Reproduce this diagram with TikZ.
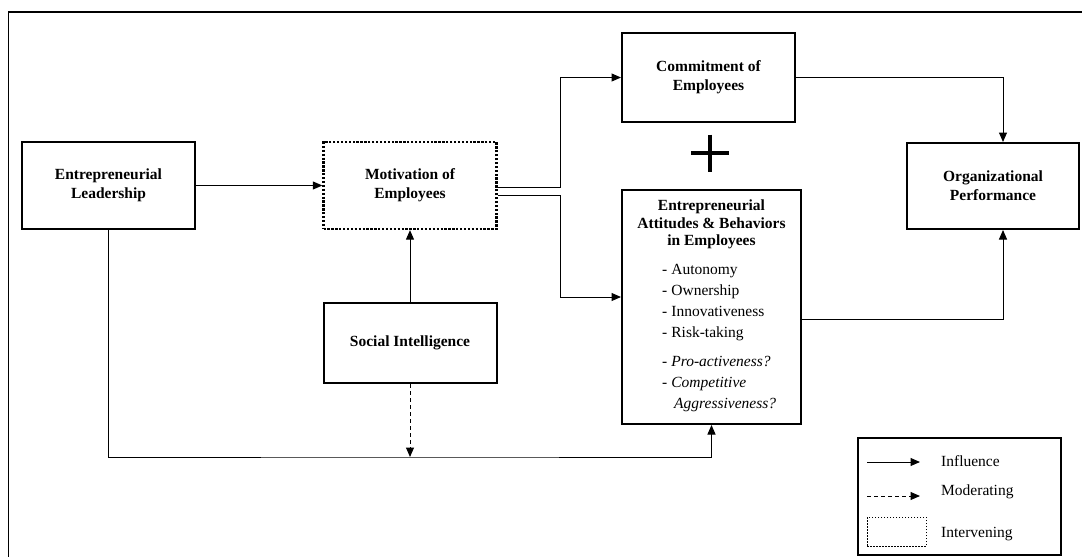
\documentclass[tikz,border=0pt]{standalone}
\usepackage{fontspec}
\setmainfont{Liberation Serif}
\usetikzlibrary{arrows.meta}
\begin{document}
\begin{tikzpicture}[x=1pt,y=-1pt,
  box/.style={draw, line width=2pt, inner sep=0pt, align=center,
    font=\fontsize{15.5}{19}\selectfont\bfseries},
  dotbox/.style={box, line width=2.3pt, dash pattern=on 2.3pt off 1.6pt},
  conn/.style={line width=1pt},
  arr/.style={conn, -{Triangle[length=9.5pt,width=8pt]}},
  darr/.style={arr, dash pattern=on 4pt off 3pt},
  item/.style={anchor=base west, inner sep=0pt, font=\fontsize{15.5}{18}\selectfont},
  legtext/.style={anchor=base west, inner sep=0pt, font=\fontsize{15.5}{18}\selectfont}
]
\useasboundingbox (0,0) rectangle (1082,557);
% outer frame
\draw[line width=1.5pt] (8.5,557) -- (8.5,12) -- (1085,12);

% boxes
\node[box, minimum width=173pt, minimum height=87pt] (el) at (108.5,185.5) {Entrepreneurial\\Leadership};
\node[dotbox, minimum width=173pt, minimum height=87pt] (mot) at (410,185.5) {Motivation of\\Employees};
\node[box, minimum width=173pt, minimum height=80pt] (si) at (410,343) {Social Intelligence};
\node[box, minimum width=173pt, minimum height=89pt] (comm) at (708.5,77.5) {Commitment of\\Employees};
\node[box, minimum width=179pt, minimum height=234pt] (eab) at (711.5,307) {};
\node[box, minimum width=172pt, minimum height=86pt] (org) at (993,186) {Organizational\\Performance};

% EAB contents
\node[inner sep=0pt, align=center, font=\fontsize{15.5}{17.5}\selectfont\bfseries] (eabt) at (711.5,224.5)
  {Entrepreneurial\\Attitudes \& Behaviors\\in Employees};
\node[item] (i1) at (662,274) {-\hspace{4pt}Autonomy};
\node[item] (i2) at (662,295) {-\hspace{4pt}Ownership};
\node[item] (i3) at (662,316) {-\hspace{4pt}Innovativeness};
\node[item] (i4) at (662,337) {-\hspace{4pt}Risk-taking};
\node[item] (i5) at (662,366) {-\hspace{4pt}\textit{Pro-activeness?}};
\node[item] (i6) at (662,387) {-\hspace{4pt}\textit{Competitive}};
\node[item] (i7) at (674,408) {\textit{Aggressiveness?}};

% plus sign
\draw[line width=4pt] (691,153) -- (729,153);
\draw[line width=4pt] (710,134.5) -- (710,171.5);

% junction coordinates
\coordinate (ju) at (560,187);
\coordinate (jl) at (560,195);
\coordinate (jo) at (1003,0);
\coordinate (m) at (410,457);

% connectors
\draw[arr] (el.east) -- (mot.west);
\draw[arr] (mot.east |- ju) -- (ju) |- (comm.west);
\draw[arr] (mot.east |- jl) -- (jl) |- (eab.west |- 0,297);
\draw[arr] (comm.east) -| (org.north -| jo);
\draw[arr] (eab.east |- 0,319) -| (org.south -| jo);
\draw[arr] (si.north) -- (mot.south);
\draw[darr] (si.south) -- (m);
\draw[arr] (el.south) |- (m) -| (eab.south);

% legend
\node[draw, line width=1.2pt, minimum width=203pt, minimum height=117pt, inner sep=0pt] (leg) at (959.5,496.5) {};
\coordinate (l1a) at (867,462);
\coordinate (l1b) at (920,462);
\coordinate (l2a) at (867,496);
\coordinate (l2b) at (920,496);
\draw[arr] (l1a) -- (l1b);
\draw[darr] (l2a) -- (l2b);
\node[draw, line width=1pt, dash pattern=on 1.5pt off 1.5pt, minimum width=59pt, minimum height=29pt, inner sep=0pt] (lint) at (896.5,531.5) {};
\node[legtext] (t1) at (941,466) {Influence};
\node[legtext] (t2) at (941,495) {Moderating};
\node[legtext] (t3) at (941,537) {Intervening};
\end{tikzpicture}
\end{document}
